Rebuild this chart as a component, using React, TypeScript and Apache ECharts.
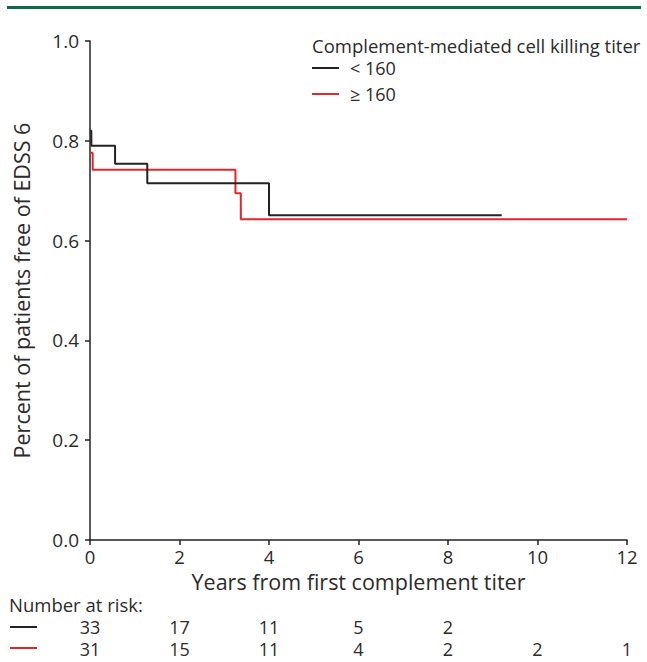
import React, { useEffect, useRef } from "react";
import * as echarts from "echarts";

// Kaplan-Meier steps: [years, proportion free of EDSS 6]
const lowTiter: [number, number][] = [
  [0, 0.82], [0.03, 0.79], [0.56, 0.754], [1.28, 0.715], [4.0, 0.651], [9.2, 0.651],
];
const highTiter: [number, number][] = [
  [0, 0.776], [0.06, 0.742], [3.25, 0.695], [3.37, 0.643], [12.0, 0.643],
];
const riskTimes = [0, 2, 4, 6, 8, 10, 12];
const riskLow: (number | null)[] = [33, 17, 11, 5, 2, null, null];
const riskHigh: (number | null)[] = [31, 15, 11, 4, 2, 2, 1];
const seriesNames = ["< 160", "≥ 160"];
const legendTitle = "Complement-mediated cell killing titer";

const FONT = "'Open Sans', 'Noto Sans', sans-serif";
const TXT = "#2b2b2b";
const BLACK = "#222222";
const RED = "#e3262b";

export default function App() {
  const ref = useRef<HTMLDivElement>(null);
  useEffect(() => {
    const chart = echarts.init(ref.current!, null, { renderer: "svg" });
    chart.setOption({
      animation: false,
      textStyle: { fontFamily: FONT },
      grid: { left: 90, right: 20, top: 41, bottom: 122, containLabel: false },
      xAxis: {
        type: "value",
        min: 0,
        max: 12,
        interval: 2,
        name: "Years from first complement titer",
        nameLocation: "middle",
        nameGap: 26,
        nameTextStyle: { fontSize: 21.5, color: TXT, fontFamily: FONT },
        axisLine: { show: true, lineStyle: { color: BLACK, width: 1.5 } },
        axisTick: { show: true, length: 5, lineStyle: { color: BLACK, width: 1.5 } },
        axisLabel: { fontSize: 18.5, color: TXT, margin: 7, fontFamily: FONT },
        splitLine: { show: false },
      },
      yAxis: {
        type: "value",
        min: 0,
        max: 1,
        interval: 0.2,
        name: "Percent of patients free of EDSS 6",
        nameLocation: "middle",
        nameGap: 58,
        nameTextStyle: { fontSize: 21.5, color: TXT, fontFamily: FONT },
        axisLine: { show: true, lineStyle: { color: BLACK, width: 1.5 } },
        axisTick: { show: true, length: 5, lineStyle: { color: BLACK, width: 1.5 } },
        axisLabel: {
          fontSize: 19,
          color: TXT,
          margin: 11,
          fontFamily: FONT,
          formatter: (v: number) => v.toFixed(1),
        },
        splitLine: { show: false },
      },
      legend: {
        orient: "vertical",
        left: 312,
        top: 58,
        padding: 0,
        itemWidth: 27,
        itemHeight: 2,
        itemGap: 6,
        icon: "rect",
        textStyle: { fontSize: 18, color: TXT, fontFamily: FONT, lineHeight: 20, padding: [0, 0, 0, 6] },
        data: seriesNames,
      },
      series: [
        {
          name: seriesNames[0],
          type: "line",
          step: "end",
          data: lowTiter,
          showSymbol: false,
          symbol: "none",
          lineStyle: { color: BLACK, width: 2 },
          itemStyle: { color: BLACK },
          z: 3,
        },
        {
          name: seriesNames[1],
          type: "line",
          step: "end",
          data: highTiter,
          showSymbol: false,
          symbol: "none",
          lineStyle: { color: RED, width: 2 },
          itemStyle: { color: RED },
          z: 2,
        },
      ],
    });

    const xs = riskTimes.map((t) => chart.convertToPixel({ xAxisIndex: 0 }, t) as number);
    const txt = (text: string, x: number, y: number, align = "left", size = 18.5) => ({
      type: "text",
      x,
      y,
      style: {
        text,
        fontSize: size,
        fontFamily: FONT,
        fill: TXT,
        align,
        verticalAlign: "middle",
        lineHeight: 18,
      },
    });
    const graphics: any[] = [
      { type: "rect", shape: { x: 7, y: 6, width: 634, height: 3 }, style: { fill: "#0d6b45" } },
      txt(legendTitle, 312, 45),
      txt("Number at risk:", 9, 604),
      { type: "line", shape: { x1: 10, y1: 627, x2: 37, y2: 627 }, style: { stroke: BLACK, lineWidth: 2 } },
      { type: "line", shape: { x1: 10, y1: 648, x2: 37, y2: 648 }, style: { stroke: RED, lineWidth: 2 } },
    ];
    riskTimes.forEach((_, i) => {
      if (riskLow[i] != null) graphics.push(txt(String(riskLow[i]), xs[i], 627, "center", 18));
      if (riskHigh[i] != null) graphics.push(txt(String(riskHigh[i]), xs[i], 649, "center", 18));
    });
    chart.setOption({ graphic: graphics });
    return () => chart.dispose();
  }, []);
  return (
    <div
      ref={ref}
      style={{ position: "fixed", left: 0, top: 0, width: 647, height: 662, background: "#fff" }}
    />
  );
}
